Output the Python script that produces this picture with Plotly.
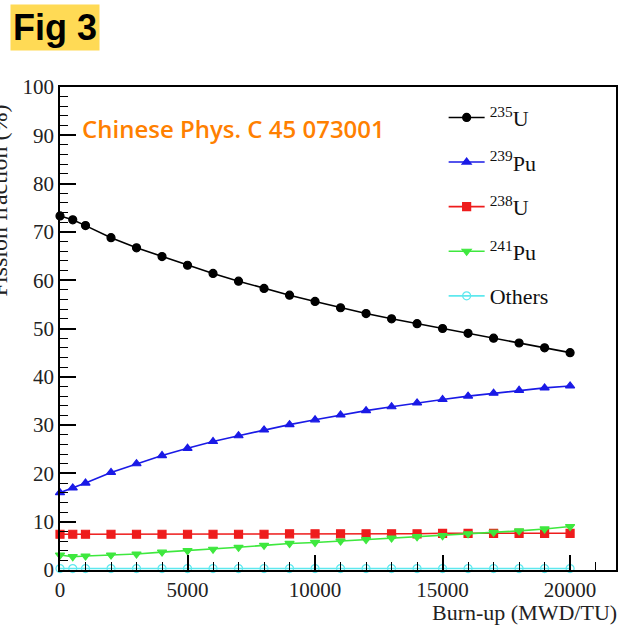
import plotly.graph_objects as go

burnup = [0, 500, 1000, 2000, 3000, 4000, 5000, 6000, 7000, 8000, 9000, 10000,
          11000, 12000, 13000, 14000, 15000, 16000, 17000, 18000, 19000, 20000]
u235 = [73.3, 72.5, 71.3, 68.8, 66.7, 64.9, 63.1, 61.4, 59.8, 58.3, 56.9, 55.6,
        54.3, 53.1, 52.0, 51.0, 50.0, 49.0, 48.0, 47.0, 46.0, 45.0]
pu239 = [16.0, 17.0, 18.0, 20.2, 22.0, 23.7, 25.2, 26.6, 27.8, 29.0, 30.1, 31.1,
         32.1, 33.0, 33.8, 34.6, 35.3, 36.0, 36.6, 37.2, 37.7, 38.1]
u238 = [7.4, 7.4, 7.4, 7.4, 7.4, 7.4, 7.4, 7.4, 7.4, 7.4, 7.5, 7.5,
        7.5, 7.5, 7.5, 7.5, 7.6, 7.6, 7.6, 7.6, 7.6, 7.6]
pu241 = [3.1, 2.75, 2.9, 3.1, 3.3, 3.7, 4.0, 4.3, 4.7, 5.1, 5.5, 5.7,
         6.0, 6.3, 6.6, 6.9, 7.1, 7.5, 7.8, 8.1, 8.5, 9.0]
others = [0.3] * 22

x_tick_vals = [0, 5000, 10000, 15000, 20000]
x_tick_text = ["0", "5000", "10000", "15000", "20000"]

series_names = ["<sup>235</sup>U", "<sup>239</sup>Pu", "<sup>238</sup>U", "<sup>241</sup>Pu", "Others"]
series_vals = [u235, pu239, u238, pu241, others]
colors = ["#000000", "#1a1ae6", "#ee1c1c", "#3ee83e", "#5ee8ee"]
symbols = ["circle", "triangle-up", "square", "triangle-down", "circle-open"]

fig = go.Figure()
for i, (nm, vals) in enumerate(zip(series_names, series_vals)):
    fig.add_trace(go.Scatter(
        x=burnup, y=vals, name=nm, mode="lines+markers",
        line=dict(color=colors[i], width=1.6),
        marker=dict(symbol=symbols[i], size=8, color=colors[i],
                    line=dict(color=colors[i], width=1.2)),
        cliponaxis=False, legendgroup=str(i)))

serif = "Liberation Serif"
fig.update_layout(
    width=623, height=628,
    margin=dict(l=60, r=5, t=87, b=58),
    paper_bgcolor="white", plot_bgcolor="white",
    font=dict(family=serif, size=21, color="#222"),
    xaxis=dict(range=[0, 21800], tickvals=x_tick_vals, ticktext=x_tick_text,
               ticks="inside", ticklen=15, tickwidth=1.5, tickcolor="black",
               showline=True, linecolor="black", linewidth=1.5, mirror=True,
               showgrid=False, zeroline=False,
               tickfont=dict(family=serif, size=21, color="#222"),
               minor=dict(ticks="inside", dtick=1000, ticklen=8, tickwidth=1.2,
                          tickcolor="black", showgrid=False)),
    yaxis=dict(range=[0, 100], dtick=10,
               ticks="inside", ticklen=16, tickwidth=1.5, tickcolor="black",
               showline=True, linecolor="black", linewidth=1.5, mirror=True,
               showgrid=False, zeroline=False,
               tickfont=dict(family=serif, size=21, color="#222"),
               minor=dict(ticks="inside", dtick=2, ticklen=8, tickwidth=1.2,
                          tickcolor="black", showgrid=False)),
    legend=dict(x=0.69, y=0.98, xanchor="left", yanchor="top",
                bgcolor="rgba(255,255,255,0)", borderwidth=0,
                font=dict(family=serif, size=22, color="#111"),
                tracegroupgap=13, itemwidth=36),
    showlegend=True,
)

fig.add_annotation(text="Fig 3", xref="paper", yref="paper",
                   x=-0.09, y=1.124, xanchor="left", yanchor="middle",
                   showarrow=False, bgcolor="#FFDA55", borderpad=2,
                   font=dict(family="Liberation Sans", size=36, color="black", weight="bold"))
fig.add_annotation(text="Chinese Phys. C 45 073001", xref="paper", yref="paper",
                   x=0.036, y=0.915, xanchor="left", yanchor="middle",
                   showarrow=False,
                   font=dict(family="Open Sans", size=24, color="#FF8000", weight=600))
fig.add_annotation(text="Burn-up (MWD/TU)", xref="paper", yref="paper",
                   x=1.006, y=-0.087, xanchor="right", yanchor="middle",
                   showarrow=False,
                   font=dict(family=serif, size=22, color="#222"))
fig.add_annotation(text="Fission fraction (%)", xref="paper", yref="paper",
                   x=-0.109, y=0.766, xanchor="center", yanchor="middle",
                   textangle=-90, showarrow=False,
                   font=dict(family=serif, size=24, color="#222"))

fig.write_html("out.html")
